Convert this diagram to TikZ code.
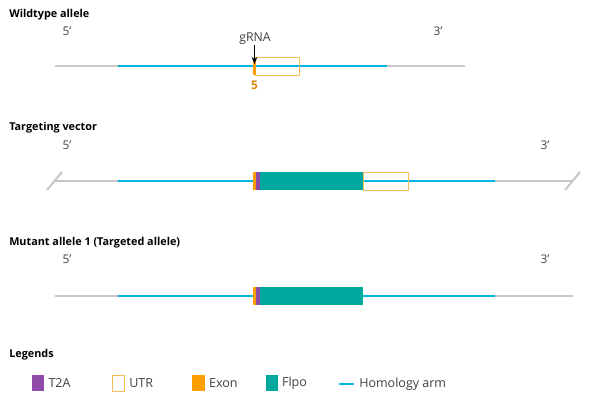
\documentclass[tikz,border=0pt]{standalone}
\usepackage{fontspec}
\setmainfont{Open Sans}
\usepackage{xcolor}
\usetikzlibrary{arrows.meta, positioning}

\definecolor{bbgray}{HTML}{C8C8C8}
\definecolor{armcyan}{HTML}{00B5E2}
\definecolor{flpoteal}{HTML}{00A99D}
\definecolor{t2apurple}{HTML}{8E4BA8}
\definecolor{exonorange}{HTML}{FF9E00}
\definecolor{utryellow}{HTML}{F2BE55}

\begin{document}
\begin{tikzpicture}[x=0.025cm, y=-0.025cm,
  ttl/.style    = {font=\fontsize{7.7}{9}\selectfont\bfseries, anchor=west,
                   inner sep=0pt},
  endlbl/.style = {font=\fontsize{8.5}{10}\selectfont, text=black!75,
                   inner sep=0pt},
  bb/.style     = {draw=bbgray, line width=1.5pt},
  arm/.style    = {draw=armcyan, line width=2.1pt},
  utrbox/.style = {draw=utryellow, line width=0.7pt},
  keybox/.style = {minimum width=0.3cm, minimum height=0.4cm, inner sep=0pt},
  keytxt/.style = {font=\fontsize{8.9}{10}\selectfont, text=black!75,
                   inner sep=0pt, anchor=west},
]
\useasboundingbox (0,0) rectangle (600,400);

%% ── Wildtype allele ─────────────────────────────────────────────────────────
\node[ttl]    (wtT) at (9,15)   {Wildtype allele};
\node[endlbl] (wt5) at (67,31)  {5'};
\node[endlbl] (wt3) at (438,31) {3'};

\draw[bb]  (55,66) -- (465,66);
\draw[arm] (118,66) -- (387,66);
\draw[utrbox] (255,57) rectangle (299,75);
\fill[exonorange] (253,58) rectangle (256,75);

\node[font=\fontsize{8.7}{10}\selectfont, text=black!75, inner sep=0pt]
  (grna) at (255,39) {gRNA};
\coordinate (cut) at (254.5,64);
\draw[-{Stealth[length=5pt,width=4pt]}, line width=0.6pt]
  (grna.south -| cut) -- (cut);
\node[font=\fontsize{8.5}{10}\selectfont\bfseries, text=exonorange!85!black,
      inner sep=0pt] (ex5) at (254.5,85) {5};

%% ── Targeting vector ────────────────────────────────────────────────────────
\node[ttl]    (tvT) at (9,128)   {Targeting vector};
\node[endlbl] (tv5) at (67,145)  {5'};
\node[endlbl] (tv3) at (545,145) {3'};

\draw[bb]  (55,181) -- (573,181);
\draw[bb]  (47,190) -- (62,172);
\draw[bb]  (565,190) -- (580,172);
\draw[arm] (118,181) -- (495,181);
\fill[exonorange] (253,172) rectangle (256,190);
\fill[t2apurple]  (256,172) rectangle (260,190);
\fill[flpoteal]   (260,172) rectangle (363,190);
\draw[utrbox] (363,172) rectangle (408,190);

%% ── Mutant allele 1 ─────────────────────────────────────────────────────────
\node[ttl]    (muT) at (9,243)   {Mutant allele 1 (Targeted allele)};
\node[endlbl] (mu5) at (67,259)  {5'};
\node[endlbl] (mu3) at (545,259) {3'};

\draw[bb]  (55,296) -- (573,296);
\draw[arm] (118,296) -- (495,296);
\fill[exonorange] (253,287) rectangle (256,305);
\fill[t2apurple]  (256,287) rectangle (260,305);
\fill[flpoteal]   (260,287) rectangle (363,305);

%% ── Legends ─────────────────────────────────────────────────────────────────
\node[ttl] (lgT) at (9,355) {Legends};

\node[keybox, fill=t2apurple] (kT2A) at (38,383) {};
\node[keytxt, right=0.1cm of kT2A] (tT2A) {T2A};

\node[keybox, draw=utryellow, line width=0.7pt] (kUTR) at (118.5,383) {};
\node[keytxt, right=0.1cm of kUTR] (tUTR) {UTR};

\node[keybox, fill=exonorange] (kExon) at (198.5,383) {};
\node[keytxt, right=0.1cm of kExon] (tExon) {Exon};

\node[keybox, fill=flpoteal] (kFlpo) at (271.5,383) {};
\node[keytxt, right=0.1cm of kFlpo] (tFlpo) {Flpo};

\coordinate (kArmA) at (340,384);
\coordinate (kArmB) at (353,384);
\draw[arm, line cap=round] (kArmA) -- (kArmB);
\node[keytxt, right=0.15cm of kArmB] (tArm) {Homology arm};

\end{tikzpicture}
\end{document}
